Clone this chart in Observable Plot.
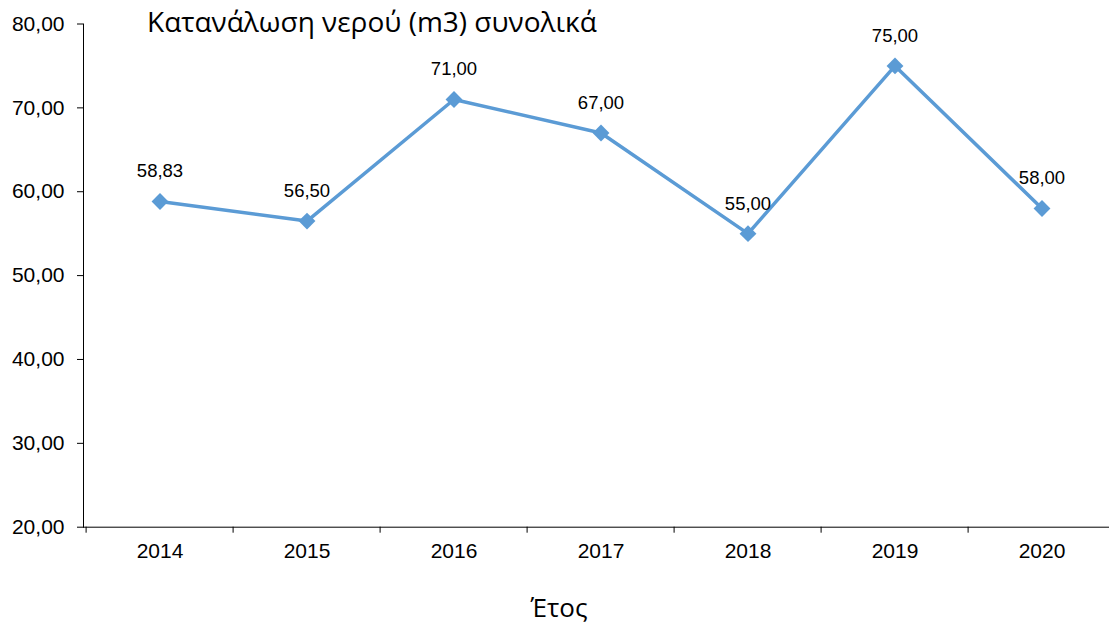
<!DOCTYPE html>
<html><head><meta charset="utf-8">
<script src="https://cdn.jsdelivr.net/npm/d3@7"></script>
<script src="https://cdn.jsdelivr.net/npm/@observablehq/plot@0.6"></script>
<style>
body{margin:0;background:#fff}
#wrap{position:relative;width:1109px;height:624px;overflow:hidden;background:#fff}
#title{position:absolute;left:147px;top:5px;font-family:"Open Sans",sans-serif;font-size:28px;color:#000;white-space:nowrap;line-height:1.2}
#xlabel{position:absolute;left:0;width:1118px;text-align:center;top:592px;font-family:"Open Sans",sans-serif;font-size:26px;color:#000;line-height:1.2}
#chart{position:absolute;left:0;top:0;width:1109px}
</style></head><body>
<div id="wrap"><div id="chart"></div><div id="title"></div><div id="xlabel"></div></div>
<script>
const years = ["2014","2015","2016","2017","2018","2019","2020"];
const values = [58.83, 56.50, 71.00, 67.00, 55.00, 75.00, 58.00];
const yTicks = [20, 30, 40, 50, 60, 70, 80];
const titleText = "Κατανάλωση νερού (m3) συνολικά";
const xTitle = "Έτος";

const data = years.map((y, i) => ({year: y, value: values[i]}));
const fmt = v => d3.format(".2f")(v).replace(".", ",");
const x0 = 83, x1 = 1117.5;
const bw = (x1 - x0) / years.length;

const chart = Plot.plot({
  width: 1109, height: 624,
  marginLeft: 83, marginRight: 0, marginTop: 23.5, marginBottom: 97.3,
  x: {type: "band", domain: years, range: [x0, x1], padding: 0},
  y: {domain: [20, 80]},
  style: {fontFamily: "'Liberation Sans', Arial, sans-serif", fontSize: "21px", color: "#000", background: "transparent", overflow: "hidden"},
  marks: [
    Plot.frame({anchor: "left", stroke: "#000"}),
    Plot.ruleY([20], {stroke: "#000"}),
    Plot.axisY({ticks: yTicks, tickFormat: fmt, tickSize: 6, tickPadding: 13, fontSize: 21, label: null, stroke: "#000", fill: "#000"}),
    Plot.axisX({tickSize: 6, tickFormat: () => "", dx: -bw / 2, label: null, stroke: "#000"}),
    Plot.axisX({tickSize: 0, tickPadding: 16, fontSize: 21, label: null, fill: "#000"}),
    Plot.line(data, {x: "year", y: "value", stroke: "#5B9BD5", strokeWidth: 3.5}),
    Plot.dot(data, {x: "year", y: "value", symbol: "diamond2", r: 7.6, fill: "#5B9BD5", stroke: "none"}),
    Plot.text(data, {x: "year", y: "value", text: d => fmt(d.value), dy: -30, fontSize: 18.5, fill: "#000"})
  ]
});
document.getElementById("chart").appendChild(chart);
document.getElementById("title").textContent = titleText;
document.getElementById("xlabel").textContent = xTitle;
</script>
</body></html>
